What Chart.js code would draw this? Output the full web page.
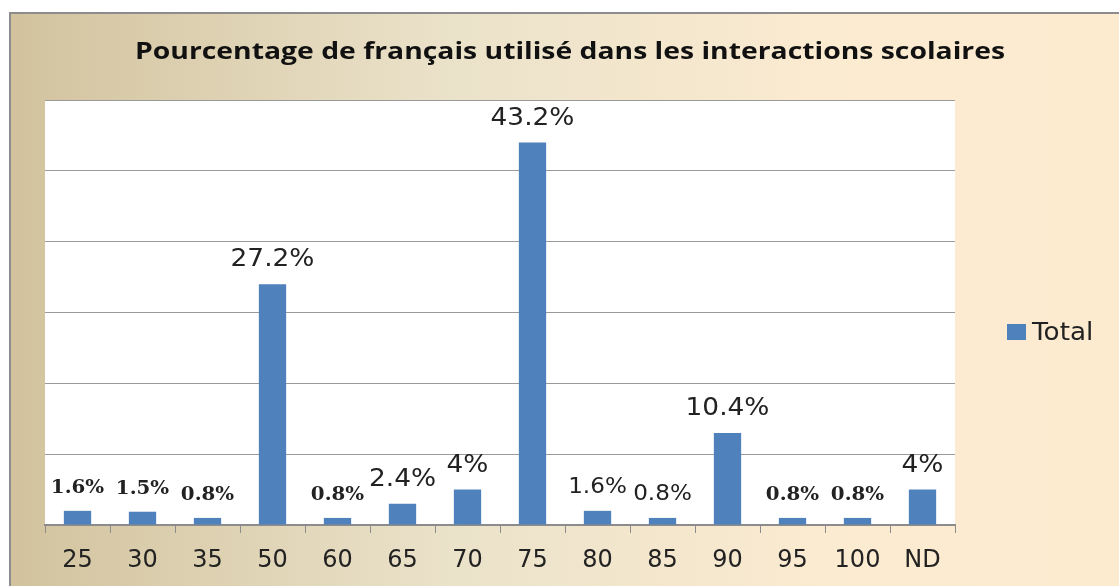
<!DOCTYPE html>
<html>
<head>
<meta charset="utf-8">
<script src="https://cdn.jsdelivr.net/npm/chart.js@4/dist/chart.umd.min.js"></script>
<style>
  html, body { margin: 0; padding: 0; background: #fff; }
  #wrap { width: 1119px; height: 586px; }
</style>
</head>
<body>
<div id="wrap"><canvas id="grafico"></canvas></div>
<script>
// données
const categories = ["25", "30", "35", "50", "60", "65", "70", "75", "80", "85", "90", "95", "100", "ND"];
const totalValues = [1.6, 1.5, 0.8, 27.2, 0.8, 2.4, 4, 43.2, 1.6, 0.8, 10.4, 0.8, 0.8, 4];
const seriesName = "Total";
const chartTitle = "Pourcentage de français utilisé dans les interactions scolaires";

// police des étiquettes (petites en serif gras, les autres en sans)
const SMALL = "bold 18px 'DejaVu Serif'", MID = "21px 'DejaVu Sans'", BIG = "24px 'DejaVu Sans'";
const labelFonts = [SMALL, SMALL, SMALL, BIG, SMALL, BIG, BIG, BIG, MID, MID, BIG, SMALL, SMALL, BIG];

// texte étiré horizontalement (le graphique d'origine est un peu élargi)
function wideText(ctx, txt, x, y, sx) {
  ctx.save();
  ctx.translate(x, y);
  ctx.scale(sx, 1);
  ctx.fillText(txt, 0, 0);
  ctx.restore();
}

const decor = {
  id: 'decor',
  beforeDraw(chart) {
    const ctx = chart.ctx, w = chart.width, h = chart.height, a = chart.chartArea;
    ctx.save();
    const g = ctx.createLinearGradient(9, 0, w, 0);
    g.addColorStop(0, '#d2c39e');
    g.addColorStop(0.4, '#ebe2ca');
    g.addColorStop(0.75, '#fbebd1');
    g.addColorStop(1, '#fdebd0');
    ctx.fillStyle = g;
    ctx.fillRect(9, 12, w - 9, h - 12);
    ctx.strokeStyle = '#8c8c8c';
    ctx.lineWidth = 2;
    ctx.beginPath();
    ctx.moveTo(10, h);
    ctx.lineTo(10, 13);
    ctx.lineTo(w, 13);
    ctx.stroke();
    ctx.fillStyle = '#fff';
    ctx.fillRect(a.left, a.top, a.right - a.left, a.bottom - a.top);

    // titre
    ctx.fillStyle = '#111';
    ctx.font = "bold 24px 'Open Sans'";
    ctx.textAlign = 'center';
    ctx.textBaseline = 'middle';
    const tw = ctx.measureText(chartTitle).width;
    wideText(ctx, chartTitle, 570, 52, 870 / tw);

    // légende
    ctx.fillStyle = '#4f81bd';
    ctx.fillRect(1007, 324, 19, 16);
    ctx.fillStyle = '#222';
    ctx.font = "25px 'DejaVu Sans'";
    ctx.textAlign = 'left';
    wideText(ctx, chart.data.datasets[0].label, 1032, 333, 1.05);
    ctx.restore();
  },
  afterDatasetsDraw(chart) {
    const ctx = chart.ctx;
    const meta = chart.getDatasetMeta(0);
    ctx.save();
    ctx.fillStyle = '#222';
    ctx.textAlign = 'center';
    ctx.textBaseline = 'alphabetic';
    meta.data.forEach((bar, i) => {
      ctx.font = labelFonts[i];
      wideText(ctx, totalValues[i] + '%', bar.x, bar.y - 18, 1.1);
    });
    ctx.restore();
  }
};

const config = {
  type: 'bar',
  data: {
    labels: categories,
    datasets: [{
      label: seriesName,
      data: totalValues,
      backgroundColor: '#4f81bd',
      borderWidth: 0,
      barPercentage: 0.42,
      categoryPercentage: 1
    }]
  },
  options: {
    responsive: false,
    animation: false,
    layout: { padding: { left: 45, top: 100, right: 164, bottom: 0 } },
    plugins: {
      legend: { display: false },
      title: { display: false },
      tooltip: { enabled: false }
    },
    scales: {
      x: {
        offset: true,
        grid: { display: true, drawOnChartArea: false, color: '#8c8c8c', tickLength: 8, offset: true },
        border: { color: '#8c8c8c', width: 2 },
        ticks: { color: '#222', padding: 13, font: { family: 'DejaVu Sans', size: 24 } },
        afterFit(scale) { scale.height = 61; }
      },
      y: {
        min: 0,
        max: 48,
        ticks: { stepSize: 8, display: false },
        grid: { color: '#9a9a9a', lineWidth: 1, drawTicks: false },
        border: { display: false },
        afterFit(scale) { scale.width = 0; }
      }
    }
  }
};

const canvas = document.getElementById('grafico');
canvas.width = 1119;
canvas.height = 586;
const grafico = new Chart(canvas, { ...config, plugins: [decor] });
</script>
</body>
</html>
